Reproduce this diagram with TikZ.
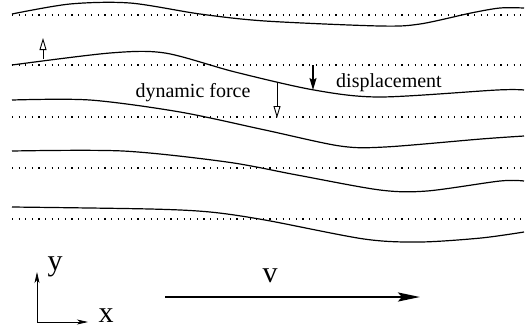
\documentclass[tikz,border=0pt]{standalone}
\usepackage{fontspec}
\setmainfont{Liberation Serif}
\usetikzlibrary{arrows.meta}

\begin{document}
\begin{tikzpicture}[x=1pt,y=-1pt,
    wave/.style={line width=1.2pt},
    rest/.style={line width=1.1pt,dash pattern=on 1.1pt off 5.5pt},
    lab/.style={anchor=base,inner sep=0pt,font=\fontsize{20}{24}\selectfont},
    biglab/.style={anchor=base,inner sep=0pt,font=\fontsize{30}{36}\selectfont}]
  \useasboundingbox (0,0) rectangle (529,333);

  % rest positions of the layers (dotted)
  \foreach \y in {15,65,117,168,219}
    \draw[rest] (12,\y) -- (524,\y);

  % displaced layers
  \draw[wave] plot[smooth,tension=0.5] coordinates {(12,14) (70,4) (130,3) (200,14) (265,21)
    (380,26) (420,24) (471,13) (500,8) (524,8)};
  \draw[wave] plot[smooth,tension=0.5] coordinates {(12,65) (110,53) (165,53) (235,72)
    (314,90) (380,97) (497,90) (524,90)};
  \draw[wave] plot[smooth,tension=0.5] coordinates {(12,100) (90,100) (180,112) (265,130)
    (340,146) (385,147) (481,139) (524,136)};
  \draw[wave] plot[smooth,tension=0.5] coordinates {(12,151) (123,151) (227,162) (297,175)
    (380,190) (427,191) (500,181) (524,181)};
  \draw[wave] plot[smooth,tension=0.5] coordinates {(12,207) (150,209) (210,212) (265,220)
    (364,239) (420,242) (481,238) (524,232)};

  % labels
  \node[lab] (force) at (193,97) {dynamic force};
  \node[lab] (disp) at (389,87) {displacement};
  \node[biglab] (vlab) at (270,282) {v};
  \node[biglab] (ylab) at (55,270) {y};
  \node[biglab] (xlab) at (106,322) {x};

  % force and displacement arrows
  \coordinate (f1a) at (43,59);
  \coordinate (f1b) at (43,38);
  \coordinate (f2a) at (277,82);
  \coordinate (f2b) at (277,118);
  \coordinate (d1a) at (313,65);
  \coordinate (d1b) at (313,90);
  \draw[line width=0.9pt,-{Triangle[open,length=12pt,width=7pt]}] (f1a) -- (f1b);
  \draw[line width=0.9pt,-{Triangle[open,length=12pt,width=7pt]}] (f2a) -- (f2b);
  \draw[line width=1.2pt,-{Stealth[length=12pt,width=7pt,inset=2pt]}] (d1a) -- (d1b);

  % axes
  \coordinate (o) at (37,322);
  \coordinate (yend) at (37,272);
  \coordinate (xend) at (88,322);
  \draw[line width=0.8pt,-{Stealth[length=11pt,width=5pt,inset=3pt]}] (o) -- (yend);
  \draw[line width=0.8pt,-{Stealth[length=11pt,width=5pt,inset=3pt]}] (o) -- (xend);

  % velocity
  \coordinate (v0) at (165,297);
  \coordinate (v1) at (420,297);
  \draw[line width=2.4pt,-{Stealth[length=22pt,width=9pt,inset=4pt]}] (v0) -- (v1);
\end{tikzpicture}
\end{document}
